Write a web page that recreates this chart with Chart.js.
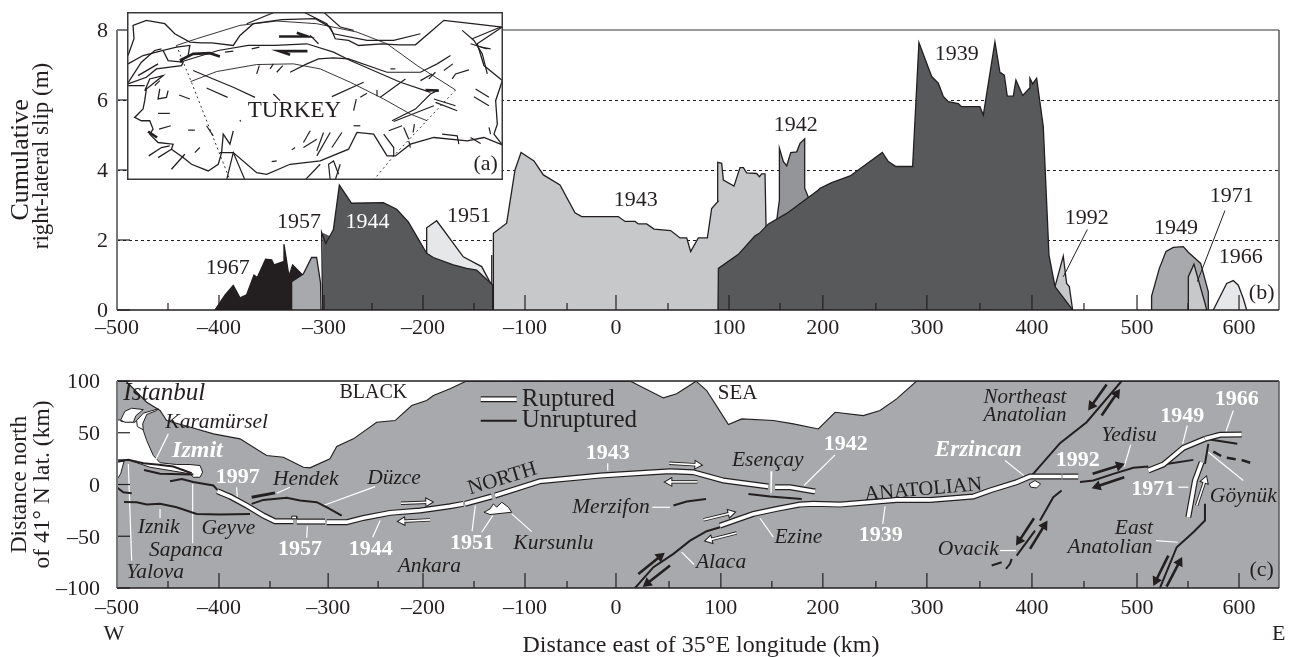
<!DOCTYPE html>
<html>
<head>
<meta charset="utf-8">
<script src="https://cdn.jsdelivr.net/npm/chart.js@4"></script>
<style>
  html, body { margin: 0; padding: 0; background: #fff; }
  canvas { position: absolute; display: block; }
</style>
</head>
<body>
<canvas id="slipChart" width="1289" height="345" style="left:0px;top:0px"></canvas>
<canvas id="mapChart" width="1289" height="312" style="left:0px;top:345px"></canvas>
<canvas id="insetChart" width="376" height="168" style="left:127px;top:12px"></canvas>
<script>
// ---- panel (b): cumulative slip, [km east, metres] ----
const slip1967 = [[-404,0],[-394,0.43],[-386,0.7],[-379.4,0.35],[-373,0.43],[-365.7,1],[-362.5,0.93],[-354.3,1.45],[-348.4,1.43],[-346,1.29],[-337,1.38],[-336.3,1.88],[-331.4,0.97],[-327.8,1.29],[-319,1.03],[-317,0]];
const slip1957 = [[-328.8,0],[-328.8,0.81],[-317.4,1.03],[-309.2,1.5],[-304.3,1.5],[-300.4,0.76],[-300,0]];
const slip1951 = [[-196.4,0],[-196.4,2.35],[-186.6,2.55],[-160.5,1.52],[-142.5,1.24],[-133.7,0.76],[-132.6,0.7],[-132.6,1.57],[-132.6,0]];
const slip1944 = [[-298.4,0],[-299.4,2.22],[-295.4,1.9],[-287.9,2.29],[-282,3.57],[-270,3.05],[-238.9,3.07],[-225.8,2.88],[-214.4,2.52],[-196.4,1.62],[-189.9,1.5],[-170.3,1.29],[-157.2,1.19],[-147.4,1.14],[-131.7,0.71],[-131.7,0]];
const slip1943 = [[-131,0],[-131,2.19],[-118,2.48],[-109.8,4],[-103.9,4.5],[-91.2,4.26],[-82,3.86],[-65.7,3.57],[-51,2.78],[-44.4,2.67],[-8.5,2.67],[-1.9,2.53],[7.9,2.53],[11.1,2.46],[19.3,2.46],[26.5,2.31],[42.8,2.27],[52,2.06],[58.5,2.06],[62.4,1.67],[69.9,2.06],[78.8,2.06],[83,2.9],[89.2,3.1],[88.9,4.22],[92.8,4.19],[94.5,3.71],[104.9,3.54],[110.8,4.07],[114.1,4.07],[117.3,3.92],[127.1,3.9],[129.8,3.81],[132,3.89],[135.3,3.89],[136.3,2.38],[137,0]];
const slip1942 = [[146.8,0],[146.8,2.57],[149.4,3.14],[149.4,4.62],[153.3,4.24],[156.6,4.12],[160.5,4.5],[166.4,4.52],[169.6,4.76],[174.2,4.89],[174.2,3.48],[179.4,3.1],[180,0]];
const slip1939 = [[89.2,0],[89.6,1.19],[109.2,1.59],[125.5,2.12],[129.8,2.19],[138.6,2.46],[156.6,2.76],[187.6,3.43],[189.2,3.48],[200.7,3.64],[218.7,3.83],[250.3,4.5],[256.2,4.24],[263.7,4.1],[280,4.1],[286.2,7.64],[298.7,6.67],[305.2,6.48],[310.1,6.1],[315,5.95],[324.8,5.9],[328,5.81],[346,5.81],[349.3,5.57],[360.7,7.66],[365.6,6.79],[369.9,6.71],[372.8,6.11],[378.7,6.11],[381.3,6.57],[387.9,6.13],[394.4,6.33],[395,6.62],[397.7,6.46],[401.6,6.62],[408.1,5.24],[413.7,1.57],[419.6,0.67],[436.9,0]];
const slip1992 = [[419.6,0.67],[427.7,1.54],[431,0.76],[433.6,0.67],[436.9,0]];
const slip1949 = [[514.3,0],[514.3,0.4],[521.9,1.19],[528.4,1.67],[535.6,1.79],[545.4,1.81],[550.3,1.65],[562.4,1.33],[569.9,0.52],[569.9,0]];
const slip1971 = [[550.3,0],[550.3,0.95],[555.8,1.31],[566.6,0.2],[568.3,0]];
const slip1966 = [[574.8,0],[581.3,0.38],[587.9,0.76],[594.4,0.84],[599.3,0.71],[604.2,0.33],[607.5,0]];
const leader1992 = [[451.3,2.3],[427.7,0.95]];
const leader1971 = [[586.2,2.84],[559.1,0.81]];

// ---- panel (c): map strip, [km east, km north] ----
const coastNorth = [[-500,100],[-491.2,100],[-470.9,79.5],[-457.8,71.5],[-451.3,61.8],[-421.9,53.7],[-405.5,48.9],[-379.4,44.1],[-353.3,28],[-336.9,26.4],[-317.3,16.7],[-310.8,16.1],[-291.2,24.8],[-284.6,36.7],[-268.3,44.1],[-245.4,60.2],[-227.4,61.8],[-211.1,76.3],[-196.4,81.1],[-189.8,85.9],[-173.5,92.4],[-157.8,99.8],[3,100],[35.7,83.7],[48.7,87.6],[67.7,99.8],[78.1,90.8],[89.6,73.1],[99.4,57.9],[112.5,63.4],[143.5,61.8],[163.1,58.6],[187.6,53.7],[204,69.8],[231.7,66.6],[248,71.5],[264.3,82.7],[284,100],[640,100]];
const marmaraSea = [[-500.3,62.4],[-497.7,62.4],[-495.4,60.8],[-482.4,60.2],[-480.7,61.8],[-474.2,52.1],[-470.9,42.5],[-464.4,28],[-457.8,21],[-441.5,19.3],[-428.4,19.3],[-418.6,18.3],[-416,11.9],[-418.6,7],[-425.2,7],[-428.4,10.3],[-448,13.5],[-467.6,16.7],[-477.4,19.9],[-488.9,23.8],[-500.3,23.8]];
const gemlikBay = [[-500.3,21.5],[-493.1,22.5],[-496.4,10.3],[-500.3,4.5]];
const bosporusBlob = [[-496.4,62.4],[-492.2,70.8],[-485.6,73.7],[-474.2,72.4],[-481.4,66.6],[-484,60.2],[-492.2,60.2]];
const bosporusStrait = [[-480.7,61.8],[-474.2,68.9],[-459.5,73.1],[-461.1,71.5],[-470.9,67.6],[-474.8,58.6],[-474.2,52.8],[-480.1,56]];
const kursunluPatch = [[-140.2,-26.8],[-134.3,-23.6],[-131,-18.7],[-127.7,-22],[-122.8,-17.1],[-116.3,-22],[-113,-26.8],[-134.3,-29]];
const erzincanPatch = [[394.4,0.6],[400,3.8],[405.5,0.6],[401.6,-3.3],[395.7,-2.6]];
const stepover1957 = [[-328.7,-30.6],[-323.8,-30.6],[-323.8,-33.2],[-328.7,-33.2]];

const ruptured = {
  1997: [[-401.6,-6.5],[-389.2,-11.6],[-372.9,-20.3],[-356.5,-30],[-345.1,-35.5],[-327.1,-35.5]],
  1957: [[-323.8,-35.8],[-296.1,-35.8]],
  1944: [[-294.4,-36.4],[-274.8,-36.4],[-258.5,-32.3],[-232.3,-27.4],[-202.9,-25.2],[-173.5,-21],[-160.4,-18.7]],
  1951: [[-158.8,-18.7],[-132.6,-11.6]],
  1943: [[-129.4,-10.7],[-85.3,3.2],[-26.4,8.6],[25.9,11.9],[42.2,12.8],[65,11.9],[94.5,3.8],[138.6,-2]],
  1942: [[145.1,-2.6],[159.8,-2.6],[184.3,-6.8]],
  1939: [[91.2,-39.7],[123.9,-28.4],[146.8,-23.6],[169.6,-19.4],[182.7,-18.7],[208.9,-19.4],[257.9,-15.5],[264.3,-14.9],[297,-14.9],[339.5,-11.6],[355.8,-5.8],[382,2.2],[395.1,7.7],[426.1,7.7]],
  1992: [[426.8,7.7],[442.4,7.7]],
  1949: [[511.1,13.5],[525.8,19.3],[545.4,35.4],[566.6,44.1]],
  1966: [[566.6,44.1],[581.3,48],[602.6,48.3]],
  1971: [[563.4,21.5],[556.8,3.8],[550.3,-31.6]],
  legend: [[-143.4,82.4],[-108.1,82.4]]
};
const unruptured = [
  [[-498.7,22.5],[-488.9,23.8],[-474.2,20.6],[-461.1,19.3],[-444.8,17.4],[-426.8,10.9]],
  [[-473.5,14.1],[-457.8,10.3],[-425.2,9.6]],
  [[-448,3.2],[-436.6,5.4],[-425.2,2.5],[-405.5,-1],[-401.6,-5.2]],
  [[-500.3,-2.6],[-493.8,-7.5],[-485.6,-8.4]],
  [[-493.1,-16.8],[-480.7,-17.1],[-470.9,-19.4],[-457.8,-18.7],[-441.5,-22],[-421.9,-28.4],[-399,-29],[-369.6,-28.4]],
  [[-368,-18.7],[-356.5,-14.9],[-333.6,-12.9],[-320.6,-15.5],[-304.2,-17.1],[-292.8,-22.9],[-279.7,-30]],
  [[45.5,-20.3],[58.5,-16.5],[77.5,-13.9]],
  [[119,-9.1],[140.2,-11.6],[171.3,-13.9]],
  [[7.9,-100],[25.9,-79.9],[45.5,-67],[61.8,-54.2],[78.1,-45.1],[91.2,-41.3]],
  [[444.1,2.5],[457.2,3.8],[476.8,10.3],[496.4,16.1],[511.1,17.4]],
  [[525.8,19.3],[555.2,23.8]],
  [[566.6,44.1],[598.3,39.3]],
  [[396.7,8.6],[424.5,39.9],[450.6,60.2],[484.9,100]],
  [[569.9,39.3],[566.6,19.9]],
  [[566.6,-18.7],[566.6,-34.8],[555.2,-46.1],[538.9,-60.6],[522.5,-100]],
  [[426.1,-5.8],[417.9,-12.3],[404.9,-34.8]],
  [[400,-44.5],[382,-68.7]],
  [[357.5,-78.3],[367.3,-75.1]],
  [[377.1,-71.9],[375.5,-76.7],[371.5,-81.5]],
  [[-143.4,61.5],[-108.1,61.5]]
];
const hendekSegment = [[-368,-12.3],[-345.1,-8.1]];
const goynukDashed = [[574.8,31.8],[584.6,26.4],[604.2,23.1],[612.4,20.6]];
const blackArrows = [
  [[11.1,-86.4],[32.4,-69.6]], [[42.2,-78.3],[20,-95.4]],
  [[470.2,96.6],[455.5,76.3]], [[465.3,66.6],[480,87.6]],
  [[399,-32.6],[384.6,-54.2]], [[395.1,-62.2],[409.1,-39.7]],
  [[456.5,10.3],[482.6,18.3]], [[487.5,7.1],[461.1,-1.7]],
  [[530.7,-68.7],[518.6,-92.8]], [[529,-98.6],[541.5,-75.1]]
];
const openArrows = [
  [[-221.6,-18.1],[-194.8,-17.1]], [[-193.1,-34.2],[-220.3,-35.5]],
  [[41.5,20.6],[69,19]], [[69,2.5],[41.5,2.5]],
  [[74.9,-34.2],[101.7,-27.7]], [[107.5,-46.8],[80.8,-53.5]],
  [[558.5,-20.3],[566.6,3.8]]
];
const leaders = [
  [[-449.7,48.9],[-464.4,19.3]], [[-488.9,19.9],[-485.6,-73.5]], [[-425.8,0.6],[-425.8,-56.7]],
  [[-457.8,-23.6],[-457.8,-32.3]], [[-382.7,-2.6],[-382,-13.9]], [[-330.4,-2.6],[-343.4,-8.4]],
  [[-247,-2],[-297.7,-20.3]], [[-313.4,-40.3],[-314,-51.6]], [[-242.1,-34.8],[-249.3,-51]],
  [[-18.9,20.6],[-18.9,13.5]], [[-148.7,-20.3],[-151.9,-45.1]], [[-131.7,-30],[-142.5,-46.1]],
  [[-113,-28.4],[-93.4,-45.5]], [[24.9,-22],[42.2,-22]], [[141.9,12.8],[141.2,-8.4]],
  [[204,28.6],[173.6,-1]], [[253,-21],[250.7,-38]], [[130.4,-32.6],[143.5,-50.9]],
  [[53.6,-65.4],[65.7,-77.3]], [[370.6,23.1],[389.2,8.6]], [[493.8,38.6],[487.5,17.4]],
  [[549.3,57],[544.7,39.3]], [[594.4,71.5],[587.2,51.2]], [[540.5,-2.6],[550.3,-2.6]],
  [[569.9,31.2],[604.2,3.8]], [[365.6,-63.8],[381.3,-63.8]], [[518.6,-54.2],[539.8,-55.8]]
];

// ---- panel (a): inset map of Turkey, in map-sheet units ----
const mapCoast = [
  [[85,165],[103,115],[100,75],[140,60],[195,70],[225,100],[270,125],[305,127],[335,127],[400,135],[420,105],[460,70],[545,58],[645,55],[690,80],[705,115],[745,120],[775,135],[845,130],[895,133],[945,133],[995,90],[1030,60],[1115,70],[1205,80]],
  [[85,250],[140,230],[170,205],[245,195],[250,185],[205,180],[190,150],[230,140],[270,135],[265,165],[240,185]],
  [[85,190],[130,165],[190,150]],
  [[135,270],[150,235],[190,225],[140,265],[135,300],[130,325],[105,350],[125,360],[150,360],[160,385],[150,400],[175,425],[220,430],[215,445],[250,470],[275,490],[325,510],[355,490],[365,455],[370,400],[390,430],[400,390]],
  [[360,455],[400,455],[470,515],[500,520],[570,490],[660,480],[745,445],[770,395],[820,400],[860,465],[885,465],[930,430],[1000,410],[1100,420],[1150,410],[1205,432]],
  [[1205,80],[1130,130],[1150,195],[1205,240],[1185,300],[1190,370],[1180,400],[1205,432]],
  [[83,255],[135,255]], [[83,250],[125,185],[165,150],[185,145]], [[115,225],[175,190]],
  [[180,265],[175,295],[200,290],[205,270]], [[147,465],[185,440],[210,435]], [[175,470],[215,445]], [[215,505],[255,460]]
];
const mapFaults = [
  [[240,185],[355,150],[445,135],[525,135],[620,130],[700,155],[750,180],[900,245],[990,275]],
  [[570,215],[620,190],[655,175],[700,172],[745,175],[860,215],[960,215],[1010,190],[1050,165]],
  [[440,70],[525,35]], [[610,35],[680,70],[700,100],[800,120],[880,120],[960,100]], [[670,35],[720,80],[760,90]],
  [[280,210],[340,235],[400,260],[465,290]], [[320,262],[383,290]], [[520,280],[540,300]],
  [[470,220],[478,195]], [[510,205],[520,190]], [[530,215],[548,195]], [[695,288],[790,245]],
  [[780,290],[800,278]], [[828,285],[830,268]], [[760,330],[768,295]], [[840,290],[915,235]],
  [[875,360],[945,325],[990,280],[1010,270]], [[880,362],[1000,315]], [[1000,295],[1065,315]], [[1005,305],[1070,330]],
  [[1125,265],[1165,290]], [[1120,288],[1165,315]], [[960,240],[995,220]], [[985,235],[1005,215]],
  [[1030,210],[1057,190]], [[1105,208],[1065,220],[1055,235]], [[1170,145],[1140,140]], [[870,205],[885,205]],
  [[760,375],[780,375]], [[850,400],[880,440],[880,465]], [[910,380],[925,415]], [[942,370],[938,395]], [[865,390],[905,375]],
  [[630,390],[610,425]], [[670,395],[650,450]], [[610,440],[650,415]], [[725,395],[695,440]], [[690,395],[650,465]],
  [[690,537],[685,490],[700,480],[715,520]], [[705,537],[720,490]], [[615,537],[660,490]],
  [[175,338],[210,338]], [[178,385],[213,375]], [[238,283],[270,295]], [[265,388],[285,388]], [[320,375],[340,405]],
  [[285,455],[300,440]], [[515,482],[530,480]], [[575,447],[585,440]], [[925,420],[930,440]],
  [[1085,90],[1120,120],[1145,160],[1160,220]], [[1115,115],[1200,80]], [[1110,130],[1160,145]],
  [[1025,400],[1070,405],[1075,430]], [[1110,410],[1140,428]], [[1165,380],[1170,400]], [[380,537],[400,455],[435,537]],
  [[375,155],[400,152]], [[455,145],[478,140]], [[630,105],[655,130]], [[165,255],[180,240]], [[420,358],[422,362]]
];
const mapBold = [
  [[240,180],[280,160],[330,158],[360,168]], [[145,392],[172,410]], [[975,268],[1015,270]],
  [[537,108],[622,108],[590,97]], [[622,152],[537,152],[570,163]]
];
const mapArcs = [
  [[230,135],[290,115],[420,75],[530,62],[650,70],[770,95],[860,130],[950,195],[1065,268]],
  [[272,243],[350,213],[470,192],[580,190],[660,205],[750,245],[850,295],[930,340],[980,360]]
];
const mapDotted = [
  [[230,135],[275,245],[390,537]],
  [[1065,268],[880,465],[820,537]]
];
const mapFrame = [[82,35],[1207,35],[1207,537],[82,537],[82,35]];

// ---- axis ticks ----
const xTickLabels = ['\u2013500','\u2013400','\u2013300','\u2013200','\u2013100','0','100','200','300','400','500','600'];
const xTicksSlip = [-500,-400,-297,-200,-100,-10.8,100,192,294,397,500,600];
const xTicksMap = [-500,-400,-293,-200,-100,-10.8,92,192,294,397,500,600];
const xMinorSlip = [-450,-350,-250,-150,-58.8,40.2,150,244,346,448,550];
const xMinorMap = [-450,-350,-244,-150,-58.8,41.2,142,244,346,448,550];

const SERIF = '"Liberation Serif", serif';
const INK = '#231f20';
const xMin = -500, xMax = 639.2;

const pts = a => a.map(p => ({ x: p[0], y: p[1] }));

function area(data, color) {
  return { data: pts(data), backgroundColor: color, borderColor: INK, borderWidth: 1.3, fill: 'origin' };
}
function stroke(data, color, width, extra) {
  return Object.assign({ data: pts(data), borderColor: color, borderWidth: width, fill: false }, extra || {});
}
function patch(data, color, line) {
  const closed = data.concat([data[0]]);
  return { data: pts(closed), backgroundColor: color, borderColor: line, borderWidth: 1, fill: 'shape' };
}
function arrow(seg, color, width, head) {
  const dx = seg[1][0] - seg[0][0], dy = seg[1][1] - seg[0][1];
  return stroke(seg, color, width, {
    pointRadius: [0, head], pointStyle: 'triangle',
    pointRotation: Math.atan2(dx, dy) * 180 / Math.PI,
    pointBackgroundColor: color, pointBorderColor: color, pointBorderWidth: 0
  });
}
// back-to-front list -> chart.js order (higher order is painted first)
function stack(list) {
  list.forEach((d, i) => { d.order = list.length - i; });
  return list;
}

// text placed in data units: [text, x, y, style, color, rotation, align, size]
const notesPlugin = {
  id: 'notes',
  afterDraw(chart, args, opts) {
    const { ctx, scales } = chart;
    ctx.save();
    ctx.textAlign = 'center';
    ctx.textBaseline = 'middle';
    (opts.items || []).forEach(n => {
      const prefix = { plain: '', italic: 'italic ', bold: 'bold ', boldItalic: 'italic bold ' }[n[3] || 'plain'];
      const size = n[7] || (n[3] === 'italic' ? 21.5 : 22);
      ctx.save();
      ctx.translate(scales.x.getPixelForValue(n[1]), scales.y.getPixelForValue(n[2]));
      if (n[5]) ctx.rotate(n[5] * Math.PI / 180);
      ctx.font = prefix + size + 'px ' + SERIF;
      ctx.fillStyle = n[4] || INK;
      if (n[6]) ctx.textAlign = n[6];
      ctx.fillText(n[0], 0, 0);
      ctx.restore();
    });
    ctx.restore();
  }
};

// frame and inward ticks
const framePlugin = {
  id: 'frame',
  afterDatasetsDraw(chart, args, opts) {
    const { ctx, chartArea: a, scales } = chart;
    ctx.save();
    ctx.strokeStyle = INK;
    ctx.lineWidth = 1.2;
    scales.x.ticks.forEach(t => {
      const px = scales.x.getPixelForValue(t.value);
      ctx.beginPath(); ctx.moveTo(px, a.bottom); ctx.lineTo(px, a.bottom - 15); ctx.stroke();
    });
    opts.minor.forEach(v => {
      const px = scales.x.getPixelForValue(v);
      ctx.beginPath(); ctx.moveTo(px, a.bottom); ctx.lineTo(px, a.bottom - 7); ctx.stroke();
    });
    scales.y.ticks.forEach(t => {
      const py = scales.y.getPixelForValue(t.value);
      ctx.beginPath(); ctx.moveTo(a.left, py); ctx.lineTo(a.left + 13, py); ctx.stroke();
    });
    const line = (x1, y1, x2, y2, c, w) => {
      ctx.strokeStyle = c; ctx.lineWidth = w;
      ctx.beginPath(); ctx.moveTo(x1, y1); ctx.lineTo(x2, y2); ctx.stroke();
    };
    line(a.left, a.top, a.right, a.top, opts.topColor, 1.5);
    line(a.left, a.top, a.left, a.bottom, '#77787b', 2);
    line(a.right, a.top, a.right, a.bottom, '#58595b', 1.5);
    line(a.left, a.bottom, a.right, a.bottom, INK, 1.5);
    ctx.restore();
  }
};

function xAxis(ticks, height, pad) {
  return {
    type: 'linear', min: xMin, max: xMax,
    afterBuildTicks: s => { s.ticks = ticks.map(v => ({ value: v })); },
    afterFit: s => { s.height = height; },
    grid: { display: false, drawTicks: false },
    border: { display: false },
    ticks: {
      autoSkip: false, maxRotation: 0, padding: pad, color: INK,
      font: { family: SERIF, size: 22 },
      callback: (v, i) => xTickLabels[i]
    }
  };
}
function yAxis(min, max, step, lines, grid) {
  return {
    min: min, max: max,
    afterFit: s => { s.width = 117; },
    grid: grid,
    border: { display: false, dash: [3, 3] },
    ticks: {
      stepSize: step, padding: 9, color: INK, labelOffset: 1.5,
      font: { family: SERIF, size: 22 },
      callback: v => String(v).replace('-', '\u2013')
    },
    title: {
      display: !!lines, text: lines || '', color: INK,
      font: { family: SERIF, size: 23.5, lineHeight: 0.98 },
      padding: { top: 8.5, bottom: 0 }
    }
  };
}

const baseOptions = {
  responsive: false,
  animation: false,
  elements: { point: { radius: 0 }, line: { tension: 0, borderJoinStyle: 'miter' } }
};

// ---- slip profile ----
new Chart(document.getElementById('slipChart'), {
  type: 'line',
  plugins: [framePlugin, notesPlugin],
  data: {
    datasets: stack([
      area(slip1967, INK),
      area(slip1957, '#a7a9ac'),
      area(slip1951, '#e6e7e8'),
      area(slip1944, '#58595b'),
      area(slip1943, '#c7c8ca'),
      area(slip1942, '#939598'),
      area(slip1992, '#c7c8ca'),
      area(slip1939, '#58595b'),
      area(slip1949, '#a7a9ac'),
      area(slip1971, '#c7c8ca'),
      area(slip1966, '#e6e7e8'),
      stroke(leader1992, INK, 1),
      stroke(leader1971, INK, 1)
    ])
  },
  options: Object.assign({}, baseOptions, {
    layout: { padding: { top: 30, right: 10, left: 0, bottom: 0 } },
    scales: {
      x: xAxis(xTicksSlip, 35, 5),
      y: yAxis(0, 8, 2, null, {
        drawTicks: false,
        color: c => (c.tick && c.tick.value > 0 && c.tick.value < 8) ? INK : 'rgba(0,0,0,0)',
        lineWidth: 1
      })
    },
    plugins: {
      legend: { display: false },
      tooltip: { enabled: false },
      frame: { minor: xMinorSlip, topColor: '#77787b' },
      notes: {
        items: [
          ['Cumulative', -594, 4.29, 'plain', INK, -90, 'center', 26],
          ['right-lateral slip (m)', -573.5, 4.4, 'plain', INK, -90, 'center', 23],
          ['1967', -391.5, 1.19], ['1957', -321.6, 2.5], ['1944', -254.3, 2.5, 'plain', '#fff'],
          ['1951', -155, 2.67], ['1943', 8.5, 3.14], ['1942', 165.4, 5.29], ['1939', 323.2, 7.3],
          ['1992', 450.6, 2.62], ['1949', 538.2, 2.33], ['1971', 592.8, 3.24], ['1966', 601.6, 1.5],
          ['(b)', 622.2, 0.48]
        ]
      }
    }
  })
});

// ---- map strip ----
const mapSets = [
  { data: pts(coastNorth), backgroundColor: '#a7a9ac', borderColor: INK, borderWidth: 1.1, fill: 'start' },
  patch(marmaraSea, '#fff', INK), patch(gemlikBay, '#fff', INK), patch(bosporusBlob, '#fff', INK), patch(bosporusStrait, '#fff', INK)
];
leaders.forEach(l => mapSets.push(stroke(l, '#fff', 1.2)));
unruptured.forEach(l => mapSets.push(stroke(l, INK, 2)));
mapSets.push(stroke(hendekSegment, INK, 3));
mapSets.push(stroke(goynukDashed, INK, 2.5, { borderDash: [9, 6] }));
Object.keys(ruptured).forEach(k => {
  mapSets.push(stroke(ruptured[k], INK, 6));
  mapSets.push(stroke(ruptured[k], '#fff', 3.6));
});
[kursunluPatch, erzincanPatch, stepover1957].forEach(p => mapSets.push(patch(p, '#fff', INK)));
blackArrows.forEach(l => mapSets.push(arrow(l, INK, 2.6, 6)));
openArrows.forEach(l => {
  mapSets.push(arrow(l, INK, 3.4, 6));
  mapSets.push(arrow(l, '#fff', 1.6, 4));
});

new Chart(document.getElementById('mapChart'), {
  type: 'line',
  plugins: [framePlugin, notesPlugin],
  data: { datasets: stack(mapSets) },
  options: Object.assign({}, baseOptions, {
    layout: { padding: { top: 36, right: 10, left: 0, bottom: 0 } },
    scales: {
      x: xAxis(xTicksMap, 69, 7),
      y: yAxis(-100, 100, 50, ['Distance north', 'of 41\u00b0 N lat. (km)'], { display: false })
    },
    plugins: {
      legend: { display: false },
      tooltip: { enabled: false },
      frame: { minor: xMinorMap, topColor: INK },
      notes: {
        items: [
          ['Distance east of 35\u00b0E longitude (km)', 72.5, -155.6, 'plain', INK, 0, 'center', 24],
          ['Istanbul', -453.6, 87.6, 'italic', INK, 0, 'center', 25], ['Karam\u00fcrsel', -402.3, 60.2, 'italic'],
          ['Izmit', -421.2, 32.2, 'boldItalic', '#fff', 0, 'center', 24], ['1997', -381.7, 7, 'bold', '#fff'],
          ['Hendek', -315, 5.4, 'italic'], ['D\u00fczce', -228.4, 6.4, 'italic'], ['BLACK', -248.7, 88.2, 'plain', INK, 0, 'center', 20],
          ['Iznik', -459.1, -41.3, 'italic'], ['Geyve', -390.8, -41.9, 'italic'],
          ['Sapanca', -432.3, -63.8, 'italic'], ['Yalova', -462.7, -84.8, 'italic'],
          ['1957', -320.6, -62.9, 'bold', '#fff'], ['1944', -251.3, -62.9, 'bold', '#fff'],
          ['Ankara', -193.8, -78.9, 'italic'], ['NORTH', -122.2, 5.4, 'plain', INK, -17, 'center', 21],
          ['1943', -18.9, 30.2, 'bold', '#fff'], ['Ruptured', -103.2, 82.4, 'plain', INK, 0, 'left', 25],
          ['Unruptured', -103.2, 61.5, 'plain', INK, 0, 'left', 25], ['SEA', 108.5, 88.2, 'plain', INK, 0, 'center', 21],
          ['Esen\u00e7ay', 138, 23.8, 'italic'], ['1942', 214.4, 39.3, 'bold', '#fff'],
          ['Merzifon', -15.7, -22, 'italic'], ['1951', -151.9, -56.4, 'bold', '#fff'],
          ['Kursunlu', -72.2, -56.4, 'italic'], ['Ezine', 168, -50.9, 'italic'], ['Alaca', 92.2, -75.1, 'italic'],
          ['ANATOLIAN', 290.5, -5, 'plain', INK, -5, 'center', 20.5], ['1939', 248.7, -49.3, 'bold', '#fff'],
          ['Northeast', 390.2, 84.3, 'italic', INK, 0, 'center', 21], ['Anatolian', 390.2, 66.6, 'italic', INK, 0, 'center', 21],
          ['Erzincan', 344.4, 32.8, 'boldItalic', '#fff', 0, 'center', 23], ['1992', 441.8, 23.8, 'bold', '#fff'],
          ['Yedisu', 492.1, 47.3, 'italic'], ['1949', 544.4, 65.7, 'bold', '#fff'], ['1966', 597.7, 82.7, 'bold', '#fff'],
          ['1971', 516, -4.9, 'bold', '#fff'], ['G\u00f6yn\u00fck', 604.2, -11.3, 'italic'],
          ['East', 497, -41.9, 'italic'], ['Anatolian', 473.5, -60.6, 'italic'], ['Ovacik', 334.6, -62.2, 'italic'],
          ['(c)', 622.2, -83.2], ['W', -503, -145], ['E', 639, -145]
        ]
      }
    }
  })
});

// ---- inset map ----
const insetSets = [];
mapCoast.forEach(l => insetSets.push(stroke(l, INK, 1.3)));
mapFaults.forEach(l => insetSets.push(stroke(l, INK, 1.2)));
mapArcs.forEach(l => insetSets.push(stroke(l, INK, 0.9)));
mapDotted.forEach(l => insetSets.push(stroke(l, INK, 0.9, { borderDash: [2, 3] })));
mapBold.forEach(l => insetSets.push(stroke(l, INK, 2.6)));
insetSets.push(stroke(mapFrame, '#3a3a3c', 3));

new Chart(document.getElementById('insetChart'), {
  type: 'line',
  plugins: [{
    id: 'paper',
    beforeDraw(c) { c.ctx.save(); c.ctx.fillStyle = '#fff'; c.ctx.fillRect(0, 0, c.width, c.height); c.ctx.restore(); }
  }, notesPlugin],
  data: { datasets: stack(insetSets) },
  options: Object.assign({}, baseOptions, {
    scales: {
      x: { type: 'linear', display: false, min: 82, max: 1207 },
      y: { display: false, min: 35, max: 537, reverse: true }
    },
    plugins: {
      legend: { display: false },
      tooltip: { enabled: false },
      notes: { items: [['TURKEY', 583, 330, 'plain', INK, 0, 'center', 23], ['(a)', 1155, 490]] }
    }
  })
});
</script>
</body>
</html>
